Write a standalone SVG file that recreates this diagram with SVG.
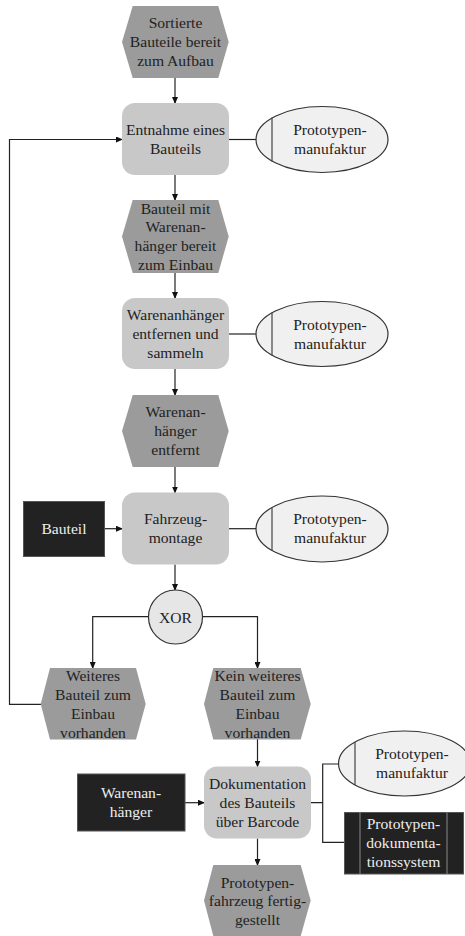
<svg xmlns="http://www.w3.org/2000/svg" width="465" height="936" viewBox="0 0 465 936">
<style>
text{font-family:'Liberation Serif','Times New Roman',serif;font-size:15.6px;fill:#222;text-anchor:middle}
.ev{fill:#9b9b9b}
.fn{fill:#c8c8c8}
.org{fill:#f0f0f0;stroke:#333;stroke-width:1.2}
.orgl{stroke:#444;stroke-width:1.2}
.dk{fill:#222;stroke:#555;stroke-width:1}
text.w{fill:#eee}
.c{fill:none;stroke:#222;stroke-width:1.2}
.ca{fill:none;stroke:#222;stroke-width:1.2;marker-end:url(#ah)}
</style>
<defs>
<marker id="ah" markerWidth="7" markerHeight="6" refX="6" refY="3" orient="auto" markerUnits="userSpaceOnUse">
<path d="M0,0 L7,3 L0,6 Z" fill="#111"/>
</marker>
</defs>
<rect width="465" height="936" fill="#fff"/>

<g id="connectors">
<path class="ca" d="M175,78 V103"/>
<path class="ca" d="M175,175 V200"/>
<path class="ca" d="M175,273 V298"/>
<path class="ca" d="M175,369 V395"/>
<path class="ca" d="M175,467 V492.5"/>
<path class="ca" d="M175,564.5 V590"/>
<path class="ca" d="M41,704.3 H9.5 V139.5 H122"/>
<path class="c" d="M229,139.5 H256"/>
<path class="c" d="M229,334 H256"/>
<path class="c" d="M229,528.7 H256"/>
<path class="ca" d="M105,528.7 H122"/>
<path class="ca" d="M148,616.7 H92.7 V668"/>
<path class="ca" d="M202,616.7 H257.5 V668"/>
<path class="ca" d="M257.5,739 V766.5"/>
<path class="ca" d="M185,802.7 H204"/>
<path class="c" d="M311,802.7 H322.7 M338.3,764 H322.7 V842.3 H344.3"/>
<path class="ca" d="M257.5,838.5 V865"/>
</g>

<g id="e1">
<polygon class="ev" points="132.7,6 218.3,6 228.7,42 218.3,78 132.7,78 122,42"/>
<text x="175.5" y="28">Sortierte</text>
<text x="175.5" y="47">Bauteile bereit</text>
<text x="175.5" y="66">zum Aufbau</text>
</g>

<g id="f1">
<rect class="fn" x="122" y="103" width="107" height="72" rx="13"/>
<text x="175.5" y="134.5">Entnahme eines</text>
<text x="175.5" y="153.5">Bauteils</text>
</g>

<g id="o1">
<ellipse class="org" cx="322" cy="139.5" rx="66" ry="33"/>
<line class="orgl" x1="272" y1="117.5" x2="272" y2="161.5"/>
<text x="330" y="134.5">Prototypen-</text>
<text x="330" y="153.5">manufaktur</text>
</g>

<g id="e2">
<polygon class="ev" points="132.7,200 218.3,200 228.7,236.5 218.3,273 132.7,273 122,236.5"/>
<text x="175.5" y="213.5">Bauteil mit</text>
<text x="175.5" y="232">Warenan-</text>
<text x="175.5" y="251">hänger bereit</text>
<text x="175.5" y="269.5">zum Einbau</text>
</g>

<g id="f2">
<rect class="fn" x="122" y="298" width="107" height="71" rx="13"/>
<text x="175.5" y="319.5">Warenanhänger</text>
<text x="175.5" y="338.5">entfernen und</text>
<text x="175.5" y="357.5">sammeln</text>
</g>

<g id="o2">
<ellipse class="org" cx="322" cy="334" rx="66" ry="32.5"/>
<line class="orgl" x1="272" y1="312.5" x2="272" y2="355.5"/>
<text x="330" y="329.5">Prototypen-</text>
<text x="330" y="348.5">manufaktur</text>
</g>

<g id="e3">
<polygon class="ev" points="132.7,395 218.3,395 228.7,431 218.3,467 132.7,467 122,431"/>
<text x="175.5" y="417">Warenan-</text>
<text x="175.5" y="436">hänger</text>
<text x="175.5" y="455">entfernt</text>
</g>

<g id="f3">
<rect class="fn" x="122" y="492.5" width="107" height="72" rx="13"/>
<text x="175.5" y="524">Fahrzeug-</text>
<text x="175.5" y="543">montage</text>
</g>

<g id="bauteil">
<rect class="dk" x="23.5" y="501.5" width="81" height="55"/>
<text class="w" x="64" y="534">Bauteil</text>
</g>

<g id="o3">
<ellipse class="org" cx="322" cy="529" rx="66" ry="33"/>
<line class="orgl" x1="272" y1="507" x2="272" y2="551"/>
<text x="330" y="524">Prototypen-</text>
<text x="330" y="543">manufaktur</text>
</g>

<g id="xor">
<circle cx="175.5" cy="617" r="27" fill="#e6e6e6" stroke="#333" stroke-width="1.2"/>
<text x="175.5" y="622.5">XOR</text>
</g>

<g id="e4">
<polygon class="ev" points="50,668 136,668 145.7,704 136,739.5 50,739.5 40.7,704"/>
<text x="93" y="681">Weiteres</text>
<text x="93" y="700">Bauteil zum</text>
<text x="93" y="719">Einbau</text>
<text x="93" y="738">vorhanden</text>
</g>

<g id="e5">
<polygon class="ev" points="213.3,668 300.7,668 310.7,704 300.7,739.5 213.3,739.5 204,704"/>
<text x="257.5" y="681">Kein weiteres</text>
<text x="257.5" y="700">Bauteil zum</text>
<text x="257.5" y="719">Einbau</text>
<text x="257.5" y="738">vorhanden</text>
</g>

<g id="f4">
<rect class="fn" x="204" y="766.5" width="107" height="72" rx="13"/>
<text x="257.5" y="789">Dokumentation</text>
<text x="257.5" y="808">des Bauteils</text>
<text x="257.5" y="826.5">über Barcode</text>
</g>

<g id="warenanhaenger">
<rect class="dk" x="77.5" y="774" width="107.5" height="57"/>
<text class="w" x="131" y="798">Warenan-</text>
<text class="w" x="131" y="817">hänger</text>
</g>

<g id="o4">
<ellipse class="org" cx="404.5" cy="763.5" rx="66" ry="32.5"/>
<line class="orgl" x1="355" y1="742" x2="355" y2="785"/>
<text x="412" y="759">Prototypen-</text>
<text x="412" y="778">manufaktur</text>
</g>

<g id="system">
<rect class="dk" x="344.5" y="812.5" width="119" height="61.5"/>
<line x1="360" y1="812.5" x2="360" y2="874" stroke="#888" stroke-width="1"/>
<line x1="447" y1="812.5" x2="447" y2="874" stroke="#888" stroke-width="1"/>
<text class="w" x="403.5" y="829">Prototypen-</text>
<text class="w" x="403.5" y="848">dokumenta-</text>
<text class="w" x="403.5" y="866.5">tionssystem</text>
</g>

<g id="e6">
<polygon class="ev" points="213.3,865 300.7,865 310.7,900.5 300.7,936 213.3,936 204,900.5"/>
<text x="257.5" y="887.5">Prototypen-</text>
<text x="257.5" y="906">fahrzeug fertig-</text>
<text x="257.5" y="924.5">gestellt</text>
</g>
</svg>
